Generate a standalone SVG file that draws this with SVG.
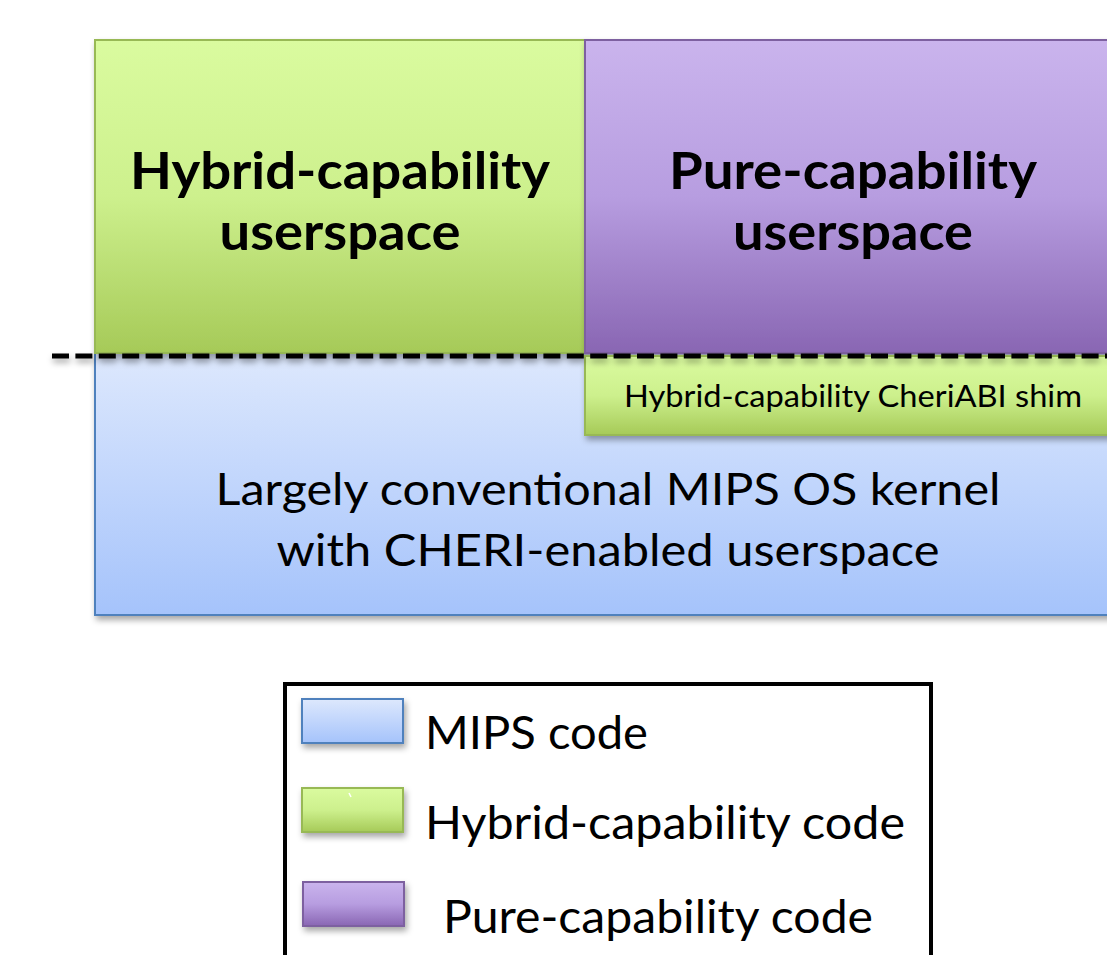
<svg xmlns="http://www.w3.org/2000/svg" width="1107" height="955" viewBox="0 0 1107 955">
  <style>
    .title { font-family: Lato, "Liberation Sans", sans-serif; font-weight: bold; font-size: 52px; fill: #000; text-anchor: middle; }
    .body { font-family: Lato, "Liberation Sans", sans-serif; font-size: 45px; fill: #000; text-anchor: middle; }
    .shim { font-family: Lato, "Liberation Sans", sans-serif; font-size: 31px; fill: #000; text-anchor: middle; }
    .legend { font-family: Lato, "Liberation Sans", sans-serif; font-size: 47px; fill: #000; }
    .blue { fill: url(#gBlue); stroke: #4f81bd; stroke-width: 2; }
    .green { fill: url(#gGreen); stroke: #98b954; stroke-width: 2; }
    .purple { fill: url(#gPurple); stroke: #7d60a0; stroke-width: 2; }
  </style>
  <defs>
    <linearGradient id="gBlue" x1="0" y1="0" x2="0" y2="1">
      <stop offset="0" stop-color="#dde8fd"/>
      <stop offset="1" stop-color="#a5c3fb"/>
    </linearGradient>
    <linearGradient id="gGreen" x1="0" y1="0" x2="0" y2="1">
      <stop offset="0" stop-color="#dafb9f"/>
      <stop offset="0.5" stop-color="#cdf08d"/>
      <stop offset="1" stop-color="#a6ca58"/>
    </linearGradient>
    <linearGradient id="gPurple" x1="0" y1="0" x2="0" y2="1">
      <stop offset="0" stop-color="#cab4ed"/>
      <stop offset="0.5" stop-color="#b79de0"/>
      <stop offset="1" stop-color="#8966b3"/>
    </linearGradient>
    <filter id="shadow" x="-10%" y="-10%" width="130%" height="140%">
      <feDropShadow dx="2" dy="4" stdDeviation="3" flood-color="#000" flood-opacity="0.35"/>
    </filter>
    <filter id="lineShadow" filterUnits="userSpaceOnUse" x="0" y="340" width="1107" height="40">
      <feDropShadow dx="1" dy="4" stdDeviation="3" flood-color="#000" flood-opacity="0.35"/>
    </filter>
  </defs>

  <!-- kernel layer -->
  <g id="kernel">
    <rect class="blue" x="95" y="353" width="1030" height="262" filter="url(#shadow)"/>
    <text class="body" x="608" y="505" textLength="785" lengthAdjust="spacingAndGlyphs">Largely conventional MIPS OS kernel</text>
    <text class="body" x="608" y="566" textLength="663" lengthAdjust="spacingAndGlyphs">with CHERI-enabled userspace</text>
  </g>

  <!-- hybrid userspace -->
  <g id="hybrid-userspace">
    <rect class="green" x="95" y="40" width="490" height="313" filter="url(#shadow)"/>
    <text class="title" x="340" y="189" textLength="420" lengthAdjust="spacingAndGlyphs">Hybrid-capability</text>
    <text class="title" x="340" y="250" textLength="241" lengthAdjust="spacingAndGlyphs">userspace</text>
  </g>

  <!-- pure userspace -->
  <g id="pure-userspace">
    <rect class="purple" x="585" y="40" width="540" height="313" filter="url(#shadow)"/>
    <text class="title" x="853" y="189" textLength="368" lengthAdjust="spacingAndGlyphs">Pure-capability</text>
    <text class="title" x="853" y="250" textLength="240" lengthAdjust="spacingAndGlyphs">userspace</text>
  </g>

  <!-- compatibility shim -->
  <g id="shim">
    <rect class="green" x="585" y="356" width="540" height="79" filter="url(#shadow)"/>
    <text class="shim" x="853" y="407" textLength="458" lengthAdjust="spacingAndGlyphs">Hybrid-capability CheriABI shim</text>
  </g>

  <!-- user/kernel boundary -->
  <g id="connectors">
    <line x1="52" y1="356" x2="1107" y2="356" stroke="#000" stroke-width="5" stroke-dasharray="17 6.4" filter="url(#lineShadow)"/>
  </g>

  <!-- legend -->
  <g id="legend">
    <rect x="285" y="684" width="646" height="300" fill="#fff" stroke="#000" stroke-width="4"/>
    <rect class="blue" x="302" y="699" width="101" height="44" filter="url(#shadow)"/>
    <text class="legend" x="425" y="749" textLength="223" lengthAdjust="spacingAndGlyphs">MIPS code</text>
    <rect class="green" x="302" y="788" width="101" height="44" filter="url(#shadow)"/>
    <line x1="349" y1="793" x2="351" y2="797" stroke="#fff" stroke-width="1.5"/>
    <text class="legend" x="425" y="839" textLength="480" lengthAdjust="spacingAndGlyphs">Hybrid-capability code</text>
    <rect class="purple" x="303" y="882" width="101" height="44" filter="url(#shadow)"/>
    <text class="legend" x="443" y="933" textLength="430" lengthAdjust="spacingAndGlyphs">Pure-capability code</text>
  </g>
</svg>
